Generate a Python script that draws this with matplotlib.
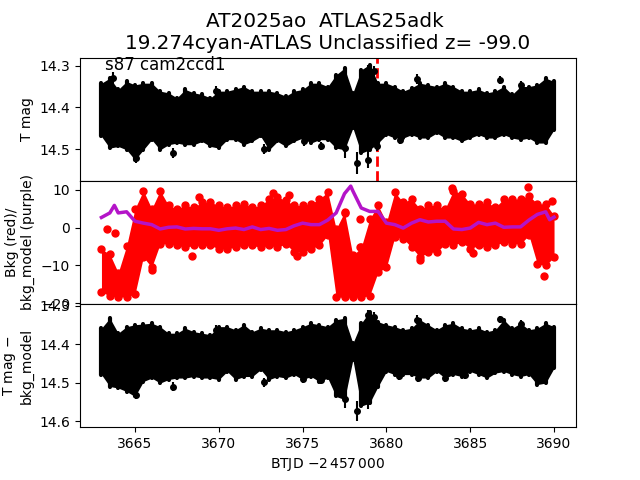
#!/usr/bin/env python3

from matplotlib import pyplot as plt
import numpy as np

# sample times along the light curve (BTJD)
times = [3663.0, 3663.5, 3664.0, 3664.5, 3665.0, 3665.5, 3666.0, 3666.5, 3667.0, 3667.5, 3668.0,
         3668.5, 3669.0, 3669.5, 3670.0, 3670.5, 3671.0, 3671.5, 3672.0, 3672.5, 3673.0, 3673.5,
         3674.0, 3674.5, 3675.0, 3675.5, 3676.0, 3676.5, 3677.0, 3677.5, 3678.0, 3678.5, 3679.0,
         3679.5, 3680.0, 3680.5, 3681.0, 3681.5, 3682.0, 3682.5, 3683.0, 3683.5, 3684.0, 3684.5,
         3685.0, 3685.5, 3686.0, 3686.5, 3687.0, 3687.5, 3688.0, 3688.5, 3689.0, 3689.5, 3690.0]

# T mag: bright and faint edge of the black band
mag_bright = [14.342, 14.330, 14.357, 14.338, 14.346, 14.342, 14.342, 14.361, 14.365, 14.377, 14.357,
              14.365, 14.369, 14.377, 14.361, 14.361, 14.356, 14.350, 14.361, 14.361, 14.361, 14.365,
              14.373, 14.361, 14.357, 14.342, 14.342, 14.350, 14.322, 14.306, 14.365, 14.310, 14.298,
              14.342, 14.342, 14.350, 14.361, 14.353, 14.342, 14.346, 14.350, 14.342, 14.350, 14.361,
              14.361, 14.357, 14.365, 14.361, 14.350, 14.369, 14.350, 14.350, 14.346, 14.330, 14.338]
mag_faint = [14.469, 14.497, 14.493, 14.501, 14.525, 14.501, 14.477, 14.501, 14.489, 14.485, 14.489,
             14.489, 14.481, 14.493, 14.497, 14.477, 14.477, 14.489, 14.481, 14.469, 14.501, 14.481,
             14.493, 14.481, 14.473, 14.485, 14.477, 14.477, 14.497, 14.501, 14.449, 14.509, 14.501,
             14.485, 14.465, 14.473, 14.473, 14.465, 14.473, 14.473, 14.461, 14.473, 14.473, 14.481,
             14.473, 14.465, 14.473, 14.473, 14.465, 14.473, 14.477, 14.473, 14.485, 14.485, 14.453]
out_t = [3665.06, 3667.25, 3672.71, 3669.81, 3663.7, 3675.08, 3676.08, 3677.53, 3678.26, 3678.92,
         3679.27, 3678.92, 3679.44, 3680.83, 3681.84, 3686.78, 3688.03]
out_mag = [14.521, 14.508, 14.499, 14.361, 14.33, 14.481, 14.492, 14.497, 14.533, 14.525,
           14.314, 14.31, 14.493, 14.477, 14.332, 14.334, 14.346]
out_err = [0.012, 0.012, 0.012, 0.012, 0.015, 0.01, 0.01, 0.024, 0.026, 0.02,
           0.012, 0.012, 0.012, 0.01, 0.012, 0.01, 0.01]

# background flux: edges of the red band
bkg_high = [-5.0, -6.3, -11.2, -4.1, 5.7, 10.5, 5.7, 10.5, 6.6, 5.7, 6.6,
            6.1, 7.4, 7.4, 6.6, 6.1, 6.6, 7.0, 6.1, 6.6, 8.3, 8.8,
            7.9, 6.6, 6.6, 7.0, 8.3, 10.1, 0.4, 4.8, -6.7, -4.5, 3.0,
            6.6, 2.1, 10.1, 7.4, 8.3, 5.7, 6.6, 6.6, 5.7, 10.5, 9.7,
            7.0, 7.0, 7.4, 6.1, 8.3, 8.3, 8.3, 9.2, 7.0, 7.0, 3.9]
bkg_low = [-17.8, -18.7, -19.1, -19.0, -18.3, -8.5, -11.2, -5.0, -5.0, -5.4, -5.9,
           -5.4, -5.4, -5.4, -6.3, -6.3, -5.9, -5.4, -5.4, -5.9, -5.4, -5.9,
           -5.0, -7.2, -7.2, -6.3, -5.4, -2.7, -19.1, -19.1, -19.1, -19.1, -18.7,
           -12.5, -11.2, -3.2, -3.6, -5.9, -8.5, -7.2, -7.2, -5.0, -5.4, -4.5,
           -6.3, -5.4, -5.9, -5.4, -4.5, -5.0, -5.0, -2.7, -10.3, -10.7, -8.5]
bkg_dot_t = [3663.35, 3663.8, 3668.84, 3668.4, 3674.68, 3673.25, 3674.2, 3666.0, 3683.93, 3688.47,
             3689.9, 3689.4, 3682.0, 3678.4, 3678.03, 3678.42, 3677.8, 3677.87, 3685.18, 3677.53, 3677.43]
bkg_dot_val = [-0.35, -1.4, 8.2, -7.4, -7.4, 9.2, 8.6, -11.2, 10.55, 10.8,
               7.0, -12.9, -8.5, 2.3, -7.2, -5.0, -11.0, -14.3, -6.7, 3.9, -0.5]

# background model (purple)
model_t = [3663.0, 3663.5, 3663.77, 3664.0, 3664.5, 3665.0, 3665.5, 3666.0, 3666.5, 3667.0, 3667.5,
           3668.0, 3668.5, 3669.0, 3669.5, 3670.0, 3670.5, 3671.0, 3671.5, 3672.0, 3672.5, 3673.0,
           3673.5, 3674.0, 3674.5, 3675.0, 3675.5, 3676.0, 3676.5, 3677.0, 3677.5, 3677.87, 3678.0,
           3678.5, 3679.0, 3679.5, 3680.0, 3680.5, 3681.0, 3681.5, 3682.0, 3682.5, 3683.0, 3683.5,
           3684.0, 3684.5, 3685.0, 3685.5, 3686.0, 3686.5, 3687.0, 3687.5, 3688.0, 3688.5, 3689.0,
           3689.5, 3689.74, 3690.0]
model_val = [2.7, 3.9, 5.9, 3.9, 4.2, 1.7, 1.2, 0.8, -0.35, 0.1, 0.2,
             -0.35, -0.2, -0.3, -0.3, -0.7, -0.3, -0.1, -0.5, 0.2, -0.5, -0.2,
             -0.7, -0.5, 0.5, 1.2, 0.8, 0.8, 2.0, 3.9, 9.0, 11.0, 9.7,
             5.2, 4.3, 4.3, 1.2, 0.8, -0.1, 1.2, 2.1, 1.5, 1.7, 1.7,
             -0.35, -0.5, -0.1, 1.4, 0.8, 1.2, 0.1, 0.2, 0.2, 2.0, 3.5,
             4.2, 2.1, 2.8]

# T mag minus background model
sub_bright = [14.358, 14.332, 14.371, 14.354, 14.349, 14.347, 14.345, 14.354, 14.371, 14.371, 14.358,
              14.367, 14.371, 14.375, 14.354, 14.354, 14.362, 14.349, 14.367, 14.358, 14.362, 14.362,
              14.367, 14.362, 14.354, 14.345, 14.349, 14.354, 14.336, 14.332, 14.397, 14.345, 14.315,
              14.341, 14.349, 14.354, 14.362, 14.358, 14.336, 14.349, 14.362, 14.349, 14.345, 14.358,
              14.362, 14.358, 14.367, 14.362, 14.336, 14.358, 14.345, 14.362, 14.358, 14.345, 14.354]
sub_faint = [14.479, 14.510, 14.514, 14.523, 14.536, 14.497, 14.488, 14.501, 14.492, 14.488, 14.488,
             14.484, 14.488, 14.488, 14.492, 14.471, 14.492, 14.484, 14.484, 14.466, 14.492, 14.484,
             14.488, 14.479, 14.492, 14.484, 14.497, 14.488, 14.536, 14.544, 14.440, 14.561, 14.553,
             14.510, 14.471, 14.479, 14.479, 14.479, 14.488, 14.488, 14.471, 14.488, 14.479, 14.484,
             14.471, 14.479, 14.488, 14.475, 14.471, 14.479, 14.484, 14.479, 14.505, 14.501, 14.462]
sub_out_t = [3665.06, 3667.25, 3672.71, 3669.81, 3675.0, 3676.08, 3678.26, 3677.53, 3678.92, 3686.78,
             3688.03, 3681.84, 3679.27, 3678.92, 3680.78, 3681.9, 3683.5, 3684.7]
sub_out_mag = [14.531, 14.51, 14.499, 14.362, 14.49, 14.494, 14.574, 14.542, 14.548, 14.335,
               14.347, 14.336, 14.328, 14.323, 14.482, 14.488, 14.488, 14.479]
sub_out_err = [0.012, 0.012, 0.012, 0.012, 0.01, 0.01, 0.025, 0.025, 0.02, 0.01,
               0.01, 0.012, 0.012, 0.012, 0.01, 0.01, 0.01, 0.012]

# dashed red marker line
event_t = 3679.44


def black_band(ax, lo, hi):
    ax.fill_between(times, lo, hi, color='black', lw=0, zorder=2)
    ax.vlines(times, lo, hi, color='black', lw=3, capstyle='round', zorder=2)


fig, (ax1, ax2, ax3) = plt.subplots(3, 1, sharex=True)
fig.subplots_adjust(hspace=0)

# T mag
ax1.axvline(event_t, color='red', ls='--', lw=2, zorder=1)
black_band(ax1, mag_bright, mag_faint)
ax1.errorbar(out_t, out_mag, yerr=out_err, fmt='ko', ms=4, lw=1.5, zorder=3)
ax1.text(3663.2, 14.31, 's87 cam2ccd1', fontsize=12)
ax1.set_ylim(14.575, 14.281)
ax1.set_yticks([14.3, 14.4, 14.5])
ax1.set_ylabel('T mag')
ax1.set_title('AT2025ao  ATLAS25adk \n19.274cyan-ATLAS Unclassified z= -99.0', fontsize=14.4)

# background, dots sit 0.7 inside the read edges so their rims land on them
bkg_top = np.array(bkg_high) - 0.7
bkg_bot = np.array(bkg_low) + 0.7
ax2.fill_between(times, bkg_bot, bkg_top, color='red', lw=0, zorder=2)
ax2.plot(times, bkg_top, 'o', color='red', ms=5, zorder=2)
ax2.plot(times, bkg_bot, 'o', color='red', ms=5, zorder=2)
ax2.plot(bkg_dot_t, bkg_dot_val, 'o', color='red', ms=5, zorder=2)
ax2.plot(model_t, model_val, color='#b414c8', lw=2.5, zorder=3)
ax2.set_ylim(-20.2, 12.4)
ax2.set_yticks([-20, -10, 0, 10])
ax2.set_ylabel('Bkg (red)/\nbkg_model (purple)')

# T mag - model
black_band(ax3, sub_bright, sub_faint)
ax3.errorbar(sub_out_t, sub_out_mag, yerr=sub_out_err, fmt='ko', ms=4, lw=1.5, zorder=3)
ax3.set_ylim(14.616, 14.295)
ax3.set_yticks([14.3, 14.4, 14.5, 14.6])
ax3.set_ylabel('T mag $-$\nbkg_model')

ax3.set_xlim(3661.72, 3691.31)
ax3.set_xticks([3665, 3670, 3675, 3680, 3685, 3690])
ax3.set_xlabel(r'BTJD $-2\,457\,000$')
ax1.tick_params(axis='x', length=0)
ax2.tick_params(axis='x', length=0)

plt.savefig('out.png', dpi=100)
plt.close()
